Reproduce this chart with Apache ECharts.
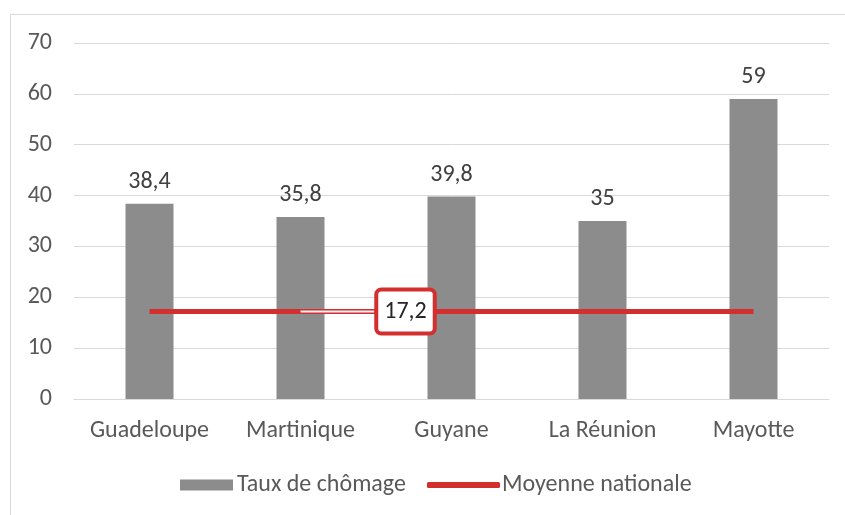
<!DOCTYPE html>
<html>
<head>
<meta charset="utf-8">
<script src="https://cdn.jsdelivr.net/npm/echarts@6/dist/echarts.min.js"></script>
<style>
  html, body { margin: 0; padding: 0; background: #fff; }
  #main { width: 845px; height: 515px; }
</style>
</head>
<body>
<div id="main"></div>
<script>
var categories = ['Guadeloupe', 'Martinique', 'Guyane', 'La Réunion', 'Mayotte'];
var chomage = [38.4, 35.8, 39.8, 35, 59];
var moyenne = [17.2, 17.2, 17.2, 17.2, 17.2];
var yTicks = [0, 10, 20, 30, 40, 50, 60, 70];

var font = 'Carlito, Lato, sans-serif';
var textColor = '#595959';
var fs = 24;

function fr(v) {
  return String(v).replace('.', ',');
}

var myChart = echarts.init(document.getElementById('main'));

var option = {
  animation: false,
  textStyle: { fontFamily: font },
  graphic: [{
    type: 'rect',
    shape: { x: 10.5, y: 14.5, width: 900, height: 600 },
    style: { fill: 'none', stroke: '#d9d9d9', lineWidth: 1 },
    silent: true
  }],
  grid: { left: 74, right: 16, top: 43, bottom: 116 },
  legend: [{
    left: 175, top: 468,
    itemWidth: 53, itemHeight: 11,
    data: [{ name: 'Taux de chômage', icon: 'rect' }],
    textStyle: { color: textColor, fontSize: fs, fontFamily: font, padding: [0, 0, 0, -1] }
  }, {
    left: 422, top: 468,
    itemWidth: 73, itemHeight: 6,
    data: [{ name: 'Moyenne nationale', icon: 'roundRect' }],
    textStyle: { color: textColor, fontSize: fs, fontFamily: font, padding: [0, 0, 0, -3] }
  }],
  xAxis: {
    type: 'category',
    data: categories,
    axisLine: { show: true, lineStyle: { color: '#d9d9d9', width: 1 } },
    axisTick: { show: false },
    axisLabel: { color: textColor, fontSize: fs, margin: 20, interval: 0, fontFamily: font }
  },
  yAxis: {
    type: 'value',
    min: yTicks[0],
    max: yTicks[yTicks.length - 1],
    interval: 10,
    axisLine: { show: false },
    axisTick: { show: false },
    splitLine: { lineStyle: { color: '#d9d9d9', width: 1 } },
    axisLabel: { color: textColor, fontSize: fs, margin: 22, fontFamily: font }
  },
  series: [{
    name: 'Taux de chômage',
    type: 'bar',
    data: chomage,
    barWidth: 48,
    itemStyle: { color: '#8c8c8c' },
    label: {
      show: true,
      position: 'top',
      distance: 10,
      color: '#404040',
      fontSize: fs,
      fontFamily: font,
      formatter: function (p) { return fr(p.value); }
    }
  }, {
    name: 'Moyenne nationale',
    type: 'line',
    data: moyenne.map(function (v, i) {
      if (i !== 1) return v;
      return {
        value: v,
        label: {
          show: true,
          position: 'inside',
          formatter: function (p) { return fr(p.value); },
          color: '#262626',
          fontSize: fs,
          fontFamily: font,
          backgroundColor: '#fff',
          borderColor: '#d32f2f',
          borderWidth: 4,
          borderRadius: 3,
          padding: [9, 6, 7, 6]
        },
        labelLine: {
          show: true,
          lineStyle: { color: '#f2f2f2', width: 2 }
        }
      };
    }),
    symbol: 'circle',
    symbolSize: 0,
    showSymbol: true,
    lineStyle: { color: '#d32f2f', width: 5 },
    itemStyle: { color: '#d32f2f' },
    labelLayout: function (p) {
      if (p.dataIndex === 1) return { dx: 105 };
    },
    z: 3
  }]
};

myChart.setOption(option);
</script>
</body>
</html>
